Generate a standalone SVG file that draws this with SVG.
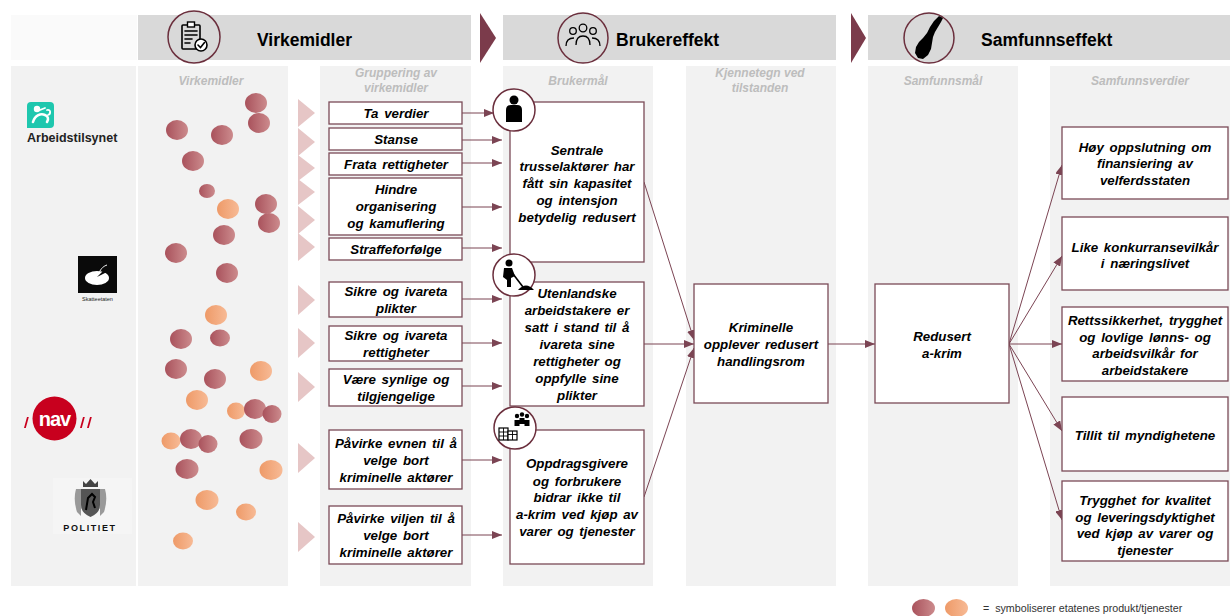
<svg xmlns="http://www.w3.org/2000/svg" width="1230" height="616" viewBox="0 0 1230 616">
<style>
.col{fill:#f2f2f2}
.hd{fill:#d9d9d9}
.hc{fill:#d9d9d9;stroke:#6b2f3d;stroke-width:1.5}
.ic{fill:#fff;stroke:#6b2f3d;stroke-width:1.5}
.bx{fill:#fff;stroke:#7a4a57;stroke-width:1.3}
.t{font-family:"Liberation Sans",Arial,sans-serif;font-size:13.3px;font-weight:bold;font-style:italic;fill:#000;text-anchor:middle;word-spacing:2px}
.ct{font-family:"Liberation Sans",Arial,sans-serif;font-size:12px;font-weight:bold;font-style:italic;fill:#bdbdbd;text-anchor:middle}
.ht{font-family:"Liberation Sans",Arial,sans-serif;font-size:17.5px;font-weight:bold;fill:#000}
.cn{stroke:#7b4453;stroke-width:1;fill:none;marker-end:url(#ah)}
.chev{fill:#e6c6c6}
.dm{fill:url(#gm)}
.do{fill:url(#go)}
.blk{fill:#000}
.ln{stroke:#000;stroke-width:1.6;fill:none;stroke-linecap:round}
</style>
<defs>
<marker id="ah" markerUnits="userSpaceOnUse" markerWidth="10" markerHeight="8" refX="10" refY="4" orient="auto">
<path d="M0,0 L10,4 L0,8 Z" fill="#7b4453"/>
</marker>
<linearGradient id="gm" x1="0" x2="1" y1="0" y2="0"><stop offset="0" stop-color="#a9525c"/><stop offset="1" stop-color="#cc8b8d"/></linearGradient>
<linearGradient id="go" x1="0" x2="1" y1="0" y2="0"><stop offset="0" stop-color="#ee9a68"/><stop offset="1" stop-color="#f7ba95"/></linearGradient>
</defs>
<rect width="1230" height="616" fill="#fff"/>

<!-- header bars -->
<g id="headers">
<rect x="11" y="15" width="126" height="45" fill="#fafafa"/>
<rect class="hd" x="138" y="15" width="333" height="45"/>
<rect class="hd" x="503" y="15" width="333" height="45"/>
<rect class="hd" x="868" y="15" width="362" height="45"/>
<polygon points="480,13 496,38 480,63" fill="#7b3b4b"/>
<polygon points="851,13 866,38 851,63" fill="#7b3b4b"/>
</g>

<g id="header-virkemidler">
<circle class="hc" cx="194" cy="37" r="26"/>
<rect x="182" y="25" width="18" height="24" rx="1" class="ln"/>
<rect x="187.5" y="22" width="7" height="5" fill="#fff" stroke="#000" stroke-width="1.4"/>
<line x1="185" y1="31" x2="197" y2="31" class="ln" stroke-width="1.2"/>
<line x1="185" y1="35" x2="197" y2="35" class="ln" stroke-width="1.2"/>
<line x1="185" y1="39" x2="192" y2="39" class="ln" stroke-width="1.2"/>
<line x1="185" y1="43" x2="190" y2="43" class="ln" stroke-width="1.2"/>
<circle cx="201" cy="45" r="6" fill="#fff" stroke="#000" stroke-width="1.6"/>
<path d="M198,45 L200.5,47.5 L204.5,42.5" class="ln" stroke-width="1.5"/>
<text class="ht" x="257" y="46">Virkemidler</text>
</g>

<g id="header-brukereffekt">
<circle class="hc" cx="583" cy="38" r="25"/>
<circle cx="573" cy="31" r="3.3" fill="none" stroke="#000" stroke-width="1.3"/>
<circle cx="583" cy="28" r="3.8" fill="none" stroke="#000" stroke-width="1.3"/>
<circle cx="593" cy="31" r="3.3" fill="none" stroke="#000" stroke-width="1.3"/>
<path d="M566,46 Q566,38 574,38" fill="none" stroke="#000" stroke-width="1.3"/>
<path d="M576,45 Q576,36 583,36 Q590,36 590,45" fill="none" stroke="#000" stroke-width="1.3"/>
<path d="M592,38 Q600,38 600,46" fill="none" stroke="#000" stroke-width="1.3"/>
<text class="ht" x="616" y="46">Brukereffekt</text>
</g>

<g id="header-samfunnseffekt">
<circle class="hc" cx="929" cy="38" r="25"/>
<path d="M939,16 L943,18 L941,22 L938,27 L935,32 L933,37 L932,43 L931,49 L928,55 L923,59 L918,58 L915,53 L916,47 L919,42 L923,38 L927,33 L930,27 L934,21 Z" class="blk"/>
<text class="ht" x="981" y="46">Samfunnseffekt</text>
</g>

<!-- columns -->
<g id="columns">
<rect class="col" x="11" y="66" width="125" height="520"/>
<rect class="col" x="138" y="66" width="150" height="520"/>
<rect class="col" x="320" y="66" width="151" height="520"/>
<rect class="col" x="503" y="66" width="150" height="520"/>
<rect class="col" x="686" y="66" width="150" height="520"/>
<rect class="col" x="868" y="66" width="150" height="520"/>
<rect class="col" x="1050" y="66" width="180" height="520"/>
<text class="ct" x="211" y="85">Virkemidler</text>
<text class="ct" x="396" y="77">Gruppering av</text>
<text class="ct" x="396" y="92">virkemidler</text>
<text class="ct" x="578" y="85">Brukermål</text>
<text class="ct" x="760" y="77">Kjennetegn ved</text>
<text class="ct" x="760" y="92">tilstanden</text>
<text class="ct" x="943" y="85">Samfunnsmål</text>
<text class="ct" x="1140" y="85">Samfunnsverdier</text>
</g>

<!-- logos -->
<g id="logo-arbeidstilsynet">
<path d="M27,128 V106 Q27,102 31,102 H50 Q54,102 54,106 V124 Q54,128 50,128 Z" fill="#1ec7ae"/>
<circle cx="37" cy="109" r="3.2" fill="#fff"/>
<path d="M33,122 C35,115 41,113 45,115 C48,116 49,119 47,122" fill="none" stroke="#fff" stroke-width="2.6" stroke-linecap="round"/>
<path d="M40,110 L45,108 M47,110 C51,109 51,114 48,115" fill="none" stroke="#fff" stroke-width="1.8" stroke-linecap="round"/>
<text x="27" y="142" font-family="'Liberation Sans',Arial,sans-serif" font-size="12.5" font-weight="bold" fill="#222">Arbeidstilsynet</text>
</g>
<g id="logo-skatteetaten">
<rect x="78" y="256" width="39" height="37" fill="#0a0a0a"/>
<ellipse cx="97" cy="278" rx="12" ry="7" fill="#fff"/>
<path d="M97,277 L104,270 L107,272 Z" fill="#0a0a0a"/>
<path d="M99,273 C101,268 104,266 107,265" fill="none" stroke="#fff" stroke-width="1"/>
<text x="97.5" y="301" text-anchor="middle" font-family="'Liberation Sans',Arial,sans-serif" font-size="5.5" fill="#222">Skatteetaten</text>
</g>
<g id="logo-nav">
<circle cx="54.5" cy="418.5" r="22" fill="#c8001e"/>
<text x="54.5" y="425.5" text-anchor="middle" font-family="'Liberation Sans',Arial,sans-serif" font-size="20" font-weight="bold" letter-spacing="-1" fill="#fff">nav</text>
<path d="M24,428 L27,417 L28.8,417 L25.8,428 Z" fill="#c8001e"/>
<path d="M80,428 L83,417 L84.8,417 L81.8,428 Z" fill="#c8001e"/>
<path d="M87,428 L90,417 L91.8,417 L88.8,428 Z" fill="#c8001e"/>
</g>
<g id="logo-politiet">
<rect x="53" y="478" width="79" height="56" fill="#f5f5f5"/>
<path d="M83,487 L83,481 L86,484 L90.5,479 L95,484 L98,481 L98,487 Z" fill="#444"/>
<path d="M76,489 Q73,500 77,512 L81,516 L81,489 Z" fill="#999"/>
<path d="M105,489 Q108,500 104,512 L100,516 L100,489 Z" fill="#999"/>
<path d="M81,489 H100 V505 Q100,513 90.5,517 Q81,513 81,505 Z" fill="#555"/>
<path d="M86,510 L88,498 L92,494 L95,497 L93,502 L95,508" fill="none" stroke="#000" stroke-width="2"/>
<text x="90" y="531" text-anchor="middle" font-family="'Liberation Sans',Arial,sans-serif" font-size="9" font-weight="bold" letter-spacing="1.6" fill="#111">POLITIET</text>
</g>

<!-- dots -->
<g id="dots">
<ellipse class="dm" cx="256" cy="103" rx="11" ry="10"/>
<ellipse class="dm" cx="259" cy="123" rx="11" ry="10"/>
<ellipse class="dm" cx="177" cy="130" rx="11" ry="10"/>
<ellipse class="dm" cx="222" cy="135" rx="11" ry="10"/>
<ellipse class="dm" cx="193" cy="161" rx="11" ry="10"/>
<ellipse class="dm" cx="207" cy="191" rx="8" ry="7"/>
<ellipse class="do" cx="228" cy="209" rx="11" ry="10"/>
<ellipse class="dm" cx="266" cy="204" rx="11" ry="10"/>
<ellipse class="dm" cx="269" cy="223" rx="11" ry="10"/>
<ellipse class="dm" cx="224" cy="235" rx="11" ry="10"/>
<ellipse class="dm" cx="176" cy="253" rx="11" ry="10"/>
<ellipse class="dm" cx="227" cy="273" rx="11" ry="10"/>
<ellipse class="do" cx="216" cy="315" rx="11" ry="10"/>
<ellipse class="dm" cx="181" cy="339" rx="11" ry="10"/>
<ellipse class="dm" cx="220" cy="338" rx="10" ry="8.5"/>
<ellipse class="dm" cx="176" cy="369" rx="11" ry="10"/>
<ellipse class="dm" cx="215" cy="379" rx="11" ry="10"/>
<ellipse class="do" cx="261" cy="371" rx="11" ry="10"/>
<ellipse class="do" cx="197" cy="400" rx="11" ry="10"/>
<ellipse class="do" cx="236" cy="411" rx="9" ry="8.5"/>
<ellipse class="dm" cx="255" cy="409" rx="11" ry="10"/>
<ellipse class="dm" cx="272" cy="414" rx="9.5" ry="9"/>
<ellipse class="do" cx="171" cy="441" rx="9.5" ry="8.5"/>
<ellipse class="dm" cx="191" cy="439" rx="11" ry="10"/>
<ellipse class="dm" cx="208" cy="444" rx="9.5" ry="9"/>
<ellipse class="dm" cx="251" cy="439" rx="11.5" ry="10"/>
<ellipse class="dm" cx="187" cy="469" rx="11.5" ry="10"/>
<ellipse class="do" cx="271" cy="470" rx="11.5" ry="10"/>
<ellipse class="do" cx="207" cy="500" rx="11.5" ry="10"/>
<ellipse class="do" cx="246" cy="512" rx="10" ry="8.5"/>
<ellipse class="do" cx="183" cy="541" rx="10" ry="8.5"/>
</g>

<!-- chevrons -->
<g id="chevrons">
<polygon class="chev" points="298,99 315,113 298,127"/>
<polygon class="chev" points="298,128 315,142 298,156"/>
<polygon class="chev" points="298,155 315,168 298,181"/>
<polygon class="chev" points="298,179 315,192 298,205"/>
<polygon class="chev" points="298,206 315,220 298,234"/>
<polygon class="chev" points="298,233 315,247 298,261"/>
<polygon class="chev" points="298,285 315,300 298,315"/>
<polygon class="chev" points="298,328 315,343 298,358"/>
<polygon class="chev" points="298,372 315,387 298,402"/>
<polygon class="chev" points="298,443 315,458 298,473"/>
<polygon class="chev" points="298,522 315,537 298,552"/>
</g>

<!-- connectors -->
<g id="connectors">
<path class="cn" d="M462,113 L494,113"/>
<path class="cn" d="M462,140 L502,140"/>
<path class="cn" d="M462,163 L502,163"/>
<path class="cn" d="M462,207 L502,207"/>
<path class="cn" d="M462,248 L502,248"/>
<path class="cn" d="M462,299 L502,299"/>
<path class="cn" d="M462,343 L502,343"/>
<path class="cn" d="M462,386 L502,386"/>
<path class="cn" d="M462,460 L502,460"/>
<path class="cn" d="M462,535 L502,535"/>
<path class="cn" d="M644,182 L694,340"/>
<path class="cn" d="M644,344 L694,344"/>
<path class="cn" d="M644,497 L694,348"/>
<path class="cn" d="M828,344 L875,344"/>
<path class="cn" d="M1009,344 L1062,165"/>
<path class="cn" d="M1009,344 L1062,256"/>
<path class="cn" d="M1009,344 L1062,344"/>
<path class="cn" d="M1009,344 L1062,431"/>
<path class="cn" d="M1009,344 L1062,520"/>
</g>

<!-- grouping nodes -->
<g id="g-ta-verdier"><rect class="bx" x="329" y="102" width="133" height="22"/><text class="t" x="396" y="118">Ta verdier</text></g>
<g id="g-stanse"><rect class="bx" x="329" y="128" width="133" height="22"/><text class="t" x="396" y="144">Stanse</text></g>
<g id="g-frata"><rect class="bx" x="329" y="153" width="133" height="22"/><text class="t" x="396" y="169">Frata rettigheter</text></g>
<g id="g-hindre"><rect class="bx" x="329" y="178" width="133" height="57"/><text class="t" x="396" y="194">Hindre</text><text class="t" x="396" y="211">organisering</text><text class="t" x="396" y="228">og kamuflering</text></g>
<g id="g-straffe"><rect class="bx" x="329" y="238" width="133" height="22"/><text class="t" x="396" y="254">Straffeforfølge</text></g>
<g id="g-sikre-plikter"><rect class="bx" x="329" y="282" width="133" height="35"/><text class="t" x="396" y="296">Sikre og ivareta</text><text class="t" x="396" y="313">plikter</text></g>
<g id="g-sikre-rettigheter"><rect class="bx" x="329" y="326" width="133" height="35"/><text class="t" x="396" y="340">Sikre og ivareta</text><text class="t" x="396" y="357">rettigheter</text></g>
<g id="g-synlige"><rect class="bx" x="329" y="369" width="133" height="37"/><text class="t" x="396" y="384">Være synlige og</text><text class="t" x="396" y="401">tilgjengelige</text></g>
<g id="g-evnen"><rect class="bx" x="329" y="430" width="133" height="59"/><text class="t" x="396" y="448">Påvirke evnen til å</text><text class="t" x="396" y="465">velge bort</text><text class="t" x="396" y="482">kriminelle aktører</text></g>
<g id="g-viljen"><rect class="bx" x="329" y="506" width="133" height="58"/><text class="t" x="396" y="523">Påvirke viljen til å</text><text class="t" x="396" y="540">velge bort</text><text class="t" x="396" y="557">kriminelle aktører</text></g>

<!-- brukermål nodes -->
<g id="b-trussel">
<rect class="bx" x="510" y="102" width="134" height="160"/>
<circle class="ic" cx="514" cy="110" r="21"/>
<circle cx="514" cy="100" r="4.5" class="blk"/>
<path d="M506,122 L506,110 Q506,105 511,105 L517,105 Q522,105 522,110 L522,122 Z" class="blk"/>
<text class="t" x="577" y="154.5">Sentrale</text>
<text class="t" x="577" y="171">trusselaktører har</text>
<text class="t" x="577" y="188">fått sin kapasitet</text>
<text class="t" x="577" y="205">og intensjon</text>
<text class="t" x="577" y="222">betydelig redusert</text>
</g>
<g id="b-utenlandske">
<rect class="bx" x="510" y="282" width="134" height="124"/>
<circle class="ic" cx="514" cy="275" r="21"/>
<circle cx="509" cy="263" r="3.5" class="blk"/>
<path d="M504,268 L512,268 L515,276 L511,278 L511,287 L507,287 L507,280 L503,277 Z" class="blk"/>
<line x1="510" y1="270" x2="523" y2="287" stroke="#000" stroke-width="1.6"/>
<path d="M518,290 Q526,281 534,290 Z" class="blk"/>
<text class="t" x="577" y="298">Utenlandske</text>
<text class="t" x="577" y="315">arbeidstakere er</text>
<text class="t" x="577" y="332">satt i stand til å</text>
<text class="t" x="577" y="349">ivareta sine</text>
<text class="t" x="577" y="366">rettigheter og</text>
<text class="t" x="577" y="383">oppfylle sine</text>
<text class="t" x="577" y="400">plikter</text>
</g>
<g id="b-oppdragsgivere">
<rect class="bx" x="510" y="430" width="134" height="134"/>
<circle class="ic" cx="515" cy="428" r="21"/>
<circle cx="517" cy="416" r="2.2" class="blk"/>
<circle cx="522" cy="414.5" r="2.2" class="blk"/>
<circle cx="527" cy="416" r="2.2" class="blk"/>
<path d="M514.5,426 V420 H519.5 V426 Z M519.5,424 V418 H524.5 V424 Z M524.5,426 V420 H529.5 V426 Z" class="blk"/>
<rect x="499" y="428" width="9" height="12" fill="#fff" stroke="#000" stroke-width="1.2"/>
<rect x="508" y="431" width="9" height="9" fill="#fff" stroke="#000" stroke-width="1.2"/>
<path d="M499,432 H508 M499,436 H508 M503.5,428 V440 M508,434.5 H517 M512.5,431 V440" stroke="#000" stroke-width="0.9"/>
<text class="t" x="577" y="468">Oppdragsgivere</text>
<text class="t" x="577" y="485.5">og forbrukere</text>
<text class="t" x="577" y="502">bidrar ikke til</text>
<text class="t" x="577" y="519">a-krim ved kjøp av</text>
<text class="t" x="577" y="536">varer og tjenester</text>
</g>

<g id="k-kriminelle">
<rect class="bx" x="694" y="284" width="134" height="119"/>
<text class="t" x="761" y="332">Kriminelle</text>
<text class="t" x="761" y="349">opplever redusert</text>
<text class="t" x="761" y="366">handlingsrom</text>
</g>
<g id="s-redusert">
<rect class="bx" x="875" y="284" width="134" height="119"/>
<text class="t" x="942" y="341">Redusert</text>
<text class="t" x="942" y="358">a-krim</text>
</g>

<g id="v-oppslutning">
<rect class="bx" x="1062" y="127" width="166" height="72"/>
<text class="t" x="1145" y="151.5">Høy oppslutning om</text>
<text class="t" x="1145" y="168">finansiering av</text>
<text class="t" x="1145" y="185">velferdsstaten</text>
</g>
<g id="v-konkurranse">
<rect class="bx" x="1062" y="217" width="166" height="73"/>
<text class="t" x="1145" y="251.5">Like konkurransevilkår</text>
<text class="t" x="1145" y="268">i næringslivet</text>
</g>
<g id="v-rettssikkerhet">
<rect class="bx" x="1062" y="307" width="166" height="74"/>
<text class="t" x="1145" y="324.5">Rettssikkerhet, trygghet</text>
<text class="t" x="1145" y="341.5">og lovlige lønns- og</text>
<text class="t" x="1145" y="358">arbeidsvilkår for</text>
<text class="t" x="1145" y="375">arbeidstakere</text>
</g>
<g id="v-tillit">
<rect class="bx" x="1062" y="397" width="166" height="74"/>
<text class="t" x="1145" y="439.5">Tillit til myndighetene</text>
</g>
<g id="v-trygghet">
<rect class="bx" x="1062" y="481" width="166" height="80"/>
<text class="t" x="1145" y="504.5">Trygghet for kvalitet</text>
<text class="t" x="1145" y="521.5">og leveringsdyktighet</text>
<text class="t" x="1145" y="538">ved kjøp av varer og</text>
<text class="t" x="1145" y="555">tjenester</text>
</g>

<g id="legend">
<ellipse class="dm" cx="923.5" cy="608" rx="11.5" ry="9"/>
<ellipse class="do" cx="956.5" cy="608" rx="11.5" ry="9"/>
<text x="983" y="612" font-family="'Liberation Sans',Arial,sans-serif" font-size="10.7" fill="#333" xml:space="preserve">=  symboliserer etatenes produkt/tjenester</text>
</g>
</svg>
